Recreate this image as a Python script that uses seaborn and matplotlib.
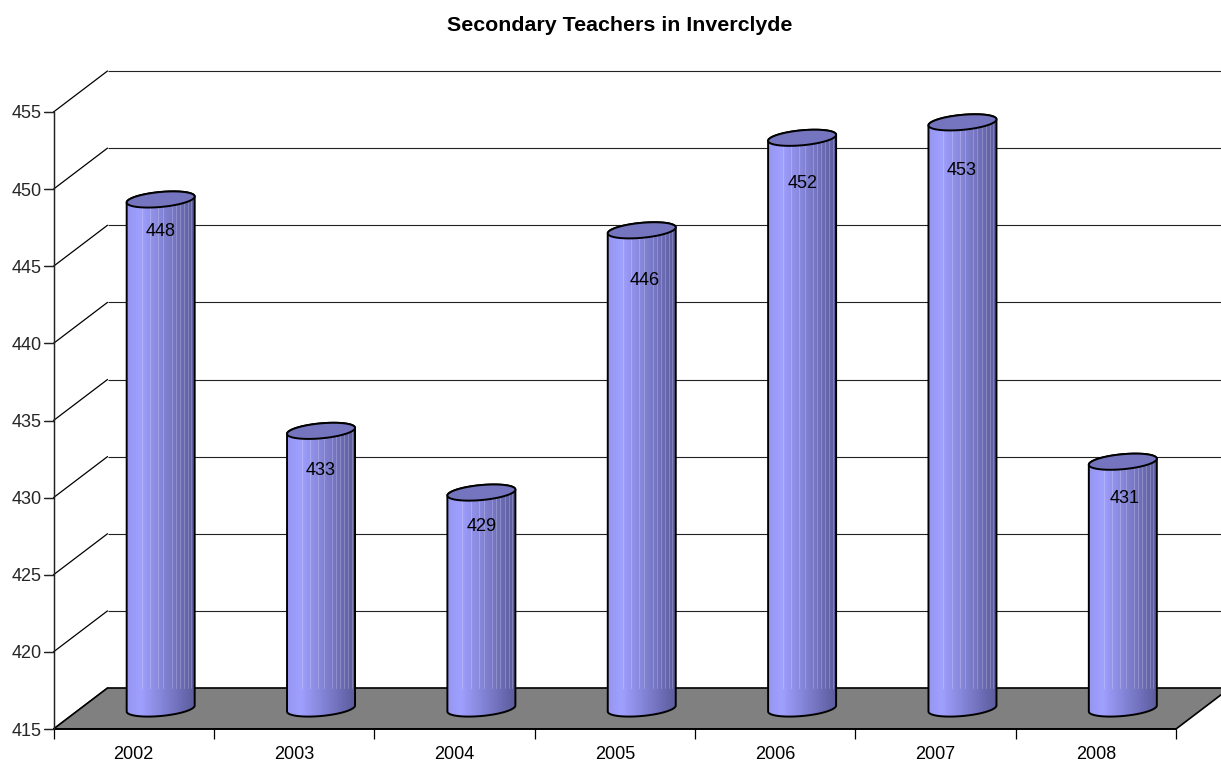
import numpy as np
import pandas as pd
import matplotlib
matplotlib.use('Agg')
import matplotlib.pyplot as plt
from matplotlib.patches import Polygon, PathPatch
from matplotlib.path import Path
import seaborn as sns

# Data
years = ['2002', '2003', '2004', '2005', '2006', '2007', '2008']
teachers = [448, 433, 429, 446, 452, 453, 431]
y_ticks = [415, 420, 425, 430, 435, 440, 445, 450, 455]

# Labels sit at slightly different places on the bars (pixels)
label_drop = [32, 40, 34, 50, 46, 48, 37]
label_shift = [0, 0, 0, 3, 1, -1, 2]
# Light streaks on the cylinders, as fraction of the width
streaks = [0.22, 0.34, 0.46, 0.54, 0.66, 0.72, 0.78, 0.84, 0.9, 0.95]

sns.set_style('white')
plt.rcParams['font.family'] = ['Liberation Sans', 'DejaVu Sans']

fig = plt.figure(figsize=(12.21, 7.61), dpi=100)
ax = fig.add_axes([53.5 / 1221, (761 - 729) / 761, 1122.5 / 1221, 617 / 761])

df = pd.DataFrame({'year': years, 'teachers': teachers})
sns.barplot(data=df, x='year', y='teachers', order=years, width=68 / 160.36, ax=ax)

ax.set_xlim(-0.5, 6.5)
ax.set_ylim(415, 455)

# size of one pixel in data units
px = 7 / 1122.5
py = 40 / 617
depth_x = 54 * px
depth_y = 41 * py

# Walls and floor
x_back = 6.5 + depth_x + 0.1
ax.hlines([t + depth_y for t in y_ticks], -0.5 + depth_x, x_back, color='#222222', lw=0.8, zorder=1, clip_on=False)
for t in y_ticks:
    ax.plot([-0.5, -0.5 + depth_x], [t, t + depth_y], color='black', lw=0.9, zorder=1, clip_on=False)
floor = Polygon([(-0.5, 415), (6.5, 415), (6.5 + depth_x, 415 + depth_y), (-0.5 + depth_x, 415 + depth_y)],
                closed=True, facecolor='#808080', edgecolor='black', lw=1.2, zorder=2, clip_on=False)
bars = list(ax.patches)
ax.add_patch(floor)

# Left axis line and its ticks
ax.plot([-0.5, -0.5], [415, 455], color='#222222', lw=1.0, zorder=5, clip_on=False)
for t in y_ticks:
    ax.plot([-0.5 - 10 * px, -0.5], [t, t], color='#222222', lw=0.9, zorder=5, clip_on=False)

# Cylinders, built from the bars that seaborn placed
grad_x = np.linspace(0, 1, 140)
stops_x = [0, 0.2, 1]
grad = np.stack([np.interp(grad_x, stops_x, [150, 160, 92]),
                 np.interp(grad_x, stops_x, [150, 160, 92]),
                 np.interp(grad_x, stops_x, [242, 255, 158])], axis=1)[None, :, :].astype(np.uint8)


def ring(cx, cy, a, start, stop, n=60):
    t = np.linspace(start, stop, n)
    xs = cx + a * np.cos(t)
    ys = cy + (3 * np.cos(t) + 7.5 * np.sin(t)) * py
    return np.column_stack([xs, ys])


for i, bar in enumerate(bars):
    a = bar.get_width() / 2
    cx = bar.get_x() + a + depth_x / 2
    top = bar.get_height() + depth_y / 2
    base = 415 + depth_y / 2
    bar.set_visible(False)

    low = ring(cx, base, a, np.pi, 2 * np.pi)
    high = ring(cx, top, a, 0, np.pi)
    body = np.vstack([low, high, low[:1]])
    body_path = Path(body)

    im = ax.imshow(grad, extent=(cx - a, cx + a, 414, top + 1), aspect='auto', zorder=3, interpolation='bilinear')
    im.set_clip_path(body_path, ax.transData)
    for s in streaks:
        sx = cx - a + 2 * a * s
        ln, = ax.plot([sx, sx], [415 + depth_y, top], color='white', alpha=0.22, lw=0.7, zorder=3.1)
        ln.set_clip_path(body_path, ax.transData)

    ax.add_patch(PathPatch(body_path, facecolor='none', edgecolor='black', lw=1.4, zorder=3.2, clip_on=False))
    lid = ring(cx, top, a, 0, 2 * np.pi, n=90)
    ax.add_patch(Polygon(lid, closed=True, facecolor='#7575bf', edgecolor='black', lw=1.4, zorder=3.3, clip_on=False))
    ax.text(cx + label_shift[i] * px, top - label_drop[i] * py, str(teachers[i]), ha='center', va='center',
            fontsize=13, color='black', zorder=4)

ax.set_xlim(-0.5, 6.5)
ax.set_ylim(415, 455)

# Axes
sns.despine(ax=ax, top=True, right=True)
ax.spines['bottom'].set_color('black')
ax.spines['bottom'].set_linewidth(1.2)
ax.set_xlabel('')
ax.set_ylabel('')
ax.set_yticks(y_ticks)
ax.set_xticks(range(len(years)))
ax.set_xticklabels(years)
ax.set_xticks(np.arange(-0.5, 7), minor=True)
ax.tick_params(axis='x', which='major', length=0, pad=12, labelsize=13, colors='black')
ax.tick_params(axis='x', which='minor', length=7.5, width=0.9, color='black', bottom=True)
ax.tick_params(axis='y', length=7.5, width=0.9, pad=1, labelsize=13, color='#222222', left=True)

fig.text(619.5 / 1221, 1 - 25.5 / 761, 'Secondary Teachers in Inverclyde', ha='center', va='center',
         fontsize=15.4, fontweight='bold', color='black')

fig.savefig('out.png', dpi=100)
